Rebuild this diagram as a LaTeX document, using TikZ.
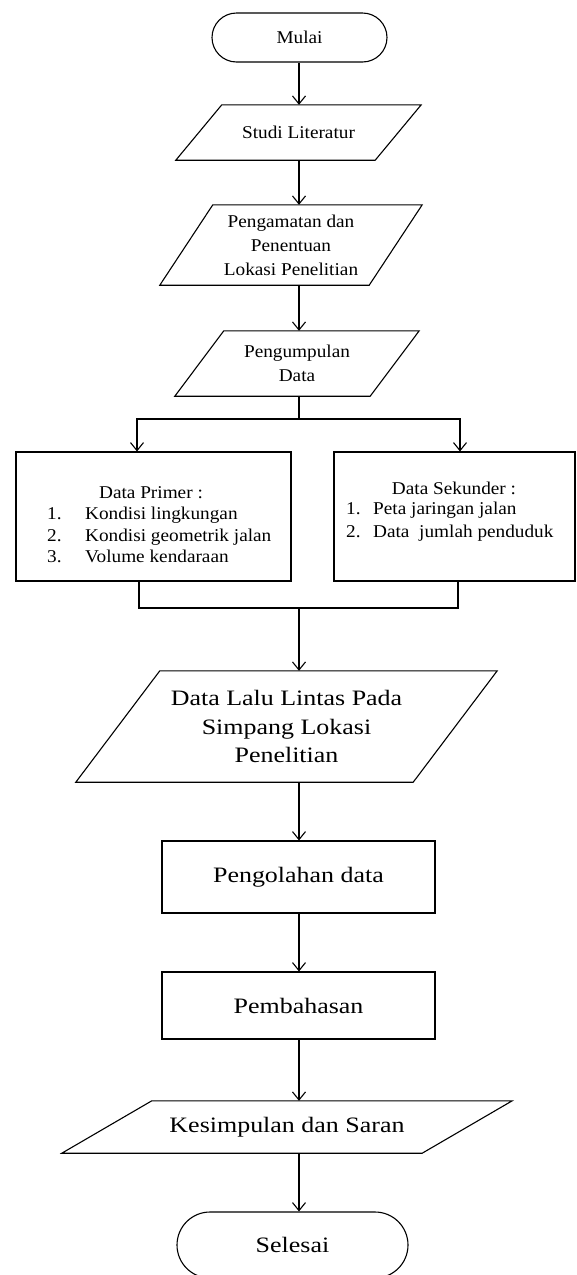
\documentclass[tikz,border=0pt]{standalone}
\usepackage{fontspec}
\setmainfont{Liberation Serif}
\newfontfamily\sfnt[FakeStretch=1.07]{Liberation Serif}
\newfontfamily\bfnt[FakeStretch=1.18]{Liberation Serif}
\usetikzlibrary{arrows.meta,shapes.misc}
\newcommand\smalltext{\sfnt\fontsize{18}{24}\selectfont}
\newcommand\listtext{\sfnt\fontsize{18}{21.5}\selectfont}
\newcommand\bigtext{\bfnt\fontsize{22}{28.5}\selectfont}
\newcommand\drawpara[2]{\draw[ln] ([xshift=#2]#1.north west) -- (#1.north east) -- ([xshift=-#2]#1.south east) -- (#1.south west) -- cycle;}
\begin{document}
\begin{tikzpicture}[x=1pt,y=-1pt,
 ln/.style={line width=1.1pt, line join=miter},
 arr/.style={ln, -{Straight Barb[length=8pt,width=13pt]}},
 term/.style={draw, ln, rounded rectangle, inner sep=0pt},
 paraframe/.style={inner sep=0pt, align=center},
 box/.style={draw, ln, rectangle, inner sep=0pt},
 txt/.style={inner sep=0pt}
]
\useasboundingbox[fill=white] (0,0) rectangle (576,1275);

\node[term, minimum width=175pt, minimum height=49pt, font=\smalltext] (mulai) at (299.5,37.5) {Mulai};

\node[paraframe, minimum width=245pt, minimum height=55pt, font=\smalltext] (studi) at (298.5,132.5) {Studi Literatur};
\drawpara{studi}{46}

\node[paraframe, minimum width=262pt, minimum height=80pt, font=\smalltext] (amat) at (291,245) {Pengamatan dan\\Penentuan\\Lokasi Penelitian};
\drawpara{amat}{53}

\node[paraframe, minimum width=244pt, minimum height=65pt, font=\smalltext] (kumpul) at (297,363.5) {Pengumpulan\\Data};
\drawpara{kumpul}{49}

\node[box, minimum width=275pt, minimum height=129pt] (primer) at (153.5,516.5) {};
\node[box, minimum width=241pt, minimum height=129pt] (sekunder) at (454.5,516.5) {};

\node[txt, font=\listtext] (primert) at (151,493) {Data Primer :};
\node[txt, font=\listtext, align=left, anchor=west] (primerl) at (47,535) {\makebox[38pt][l]{1.}Kondisi lingkungan\\\makebox[38pt][l]{2.}Kondisi geometrik jalan\\\makebox[38pt][l]{3.}Volume kendaraan};

\node[txt, font=\listtext] (sekt) at (454,488) {Data Sekunder :};
\node[txt, font=\listtext, align=left, anchor=west] (sekl) at (346,522) {\makebox[27pt][l]{1.}Peta jaringan jalan\\[1.5pt]\makebox[27pt][l]{2.}Data~ jumlah penduduk};

\node[paraframe, minimum width=421pt, minimum height=111pt, font=\bigtext] (dll) at (286.5,726.5) {Data Lalu Lintas Pada\\Simpang Lokasi\\Penelitian};
\drawpara{dll}{84}

\node[box, minimum width=273pt, minimum height=72pt, font=\bigtext] (olah) at (298.5,877) {Pengolahan data};
\node[box, minimum width=273pt, minimum height=67pt, font=\bigtext] (bahas) at (298.5,1005.5) {Pembahasan};

\node[paraframe, minimum width=450pt, minimum height=52pt, font=\bigtext] (simpul) at (287,1127) {Kesimpulan dan Saran};
\drawpara{simpul}{90}

\node[term, minimum width=231pt, minimum height=66pt, font=\bigtext] (selesai) at (292.5,1245) {Selesai};

\coordinate (spine) at (299,0);
\coordinate (split) at (299,419);
\coordinate (pl) at (137,419);
\coordinate (pr) at (460,419);
\coordinate (jl) at (139,608);
\coordinate (jr) at (458,608);
\coordinate (join) at (299,608);

\draw[arr] (mulai.south -| spine) -- (studi.north -| spine);
\draw[arr] (studi.south -| spine) -- (amat.north -| spine);
\draw[arr] (amat.south -| spine) -- (kumpul.north -| spine);
\draw[ln] (kumpul.south -| split) -- (split);
\draw[arr] (split) -- (pl) -- (pl |- primer.north);
\draw[arr] (split) -- (pr) -- (pr |- sekunder.north);
\draw[ln] (primer.south -| jl) -- (jl) -- (jr) -- (sekunder.south -| jr);
\draw[arr] (join) -- (dll.north -| join);
\draw[arr] (dll.south -| spine) -- (olah.north -| spine);
\draw[arr] (olah.south -| spine) -- (bahas.north -| spine);
\draw[arr] (bahas.south -| spine) -- (simpul.north -| spine);
\draw[arr] (simpul.south -| spine) -- (selesai.north -| spine);
\end{tikzpicture}
\end{document}
